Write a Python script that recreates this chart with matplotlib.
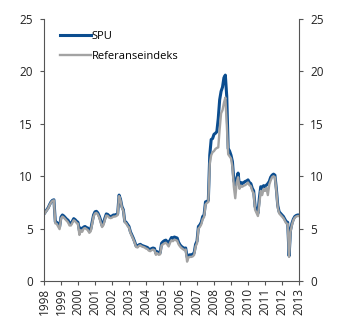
import numpy as np
import matplotlib
matplotlib.use("Agg")
import matplotlib.pyplot as plt

# monthly values, Jan 1998 .. Jan 2013
spu = [
    6.4, 6.6, 6.8, 7.0, 7.3, 7.55, 7.7, 7.75, 5.65, 5.6, 5.45, 5.15,      # 1998
    6.1, 6.3, 6.2, 6.05, 5.9, 5.8, 5.5, 5.45, 5.7, 5.95, 5.85, 5.7,       # 1999
    5.6, 4.8, 5.05, 4.95, 5.15, 5.2, 5.1, 5.05, 4.75, 4.95, 5.6, 6.3,     # 2000
    6.6, 6.65, 6.5, 6.2, 5.8, 5.3, 5.55, 6.0, 6.4, 6.35, 6.2, 6.15,       # 2001
    6.2, 6.3, 6.3, 6.35, 6.4, 8.2, 7.8, 7.1, 6.8, 5.7, 5.6, 5.4,          # 2002
    5.2, 4.7, 4.4, 4.1, 3.75, 3.35, 3.3, 3.45, 3.5, 3.4, 3.35, 3.3,       # 2003
    3.25, 3.2, 3.05, 3.0, 3.1, 3.15, 3.1, 2.65, 2.8, 2.65, 2.7, 3.6,      # 2004
    3.75, 3.85, 3.9, 3.75, 3.55, 3.9, 4.15, 4.05, 4.2, 4.15, 4.1, 3.7,    # 2005
    3.45, 3.3, 3.2, 3.1, 3.15, 2.3, 2.45, 2.5, 2.5, 2.55, 2.7, 3.5,       # 2006
    3.8, 5.2, 5.35, 5.6, 6.15, 6.3, 7.55, 7.6, 7.7, 12.0, 13.5, 13.6,     # 2007
    14.0, 14.1, 14.25, 15.5, 17.3, 18.1, 18.5, 19.4, 19.65, 17.6, 12.65, 12.4,  # 2008
    12.0, 11.4, 9.6, 9.15, 9.8, 10.3, 9.0, 9.4, 9.3, 9.4, 9.5, 9.55,     # 2009
    9.65, 9.4, 9.3, 8.85, 8.6, 7.1, 6.8, 6.45, 7.9, 9.0, 8.9, 9.1,        # 2010
    9.0, 9.15, 9.3, 9.5, 9.9, 10.1, 10.2, 10.1, 8.8, 7.2, 6.6, 6.45,      # 2011
    6.3, 6.15, 5.9, 5.65, 5.6, 2.4, 4.85, 5.5, 5.9, 6.15, 6.25, 6.3,      # 2012
    6.3,                                                                  # 2013
]

referanse = [
    6.35, 6.55, 6.75, 6.95, 7.25, 7.5, 7.65, 7.7, 5.5, 5.45, 5.2, 4.95,
    5.95, 6.15, 6.05, 5.9, 5.75, 5.6, 5.3, 5.3, 5.55, 5.8, 5.7, 5.55,
    5.45, 4.4, 4.85, 4.7, 5.0, 5.05, 4.95, 4.85, 4.6, 4.75, 5.45, 6.15,
    6.45, 6.5, 6.35, 6.05, 5.6, 5.15, 5.35, 5.85, 6.25, 6.2, 6.05, 6.0,
    6.05, 6.15, 6.15, 6.2, 6.3, 8.1, 7.7, 7.0, 6.7, 5.6, 5.5, 5.25,
    5.1, 4.6, 4.3, 4.0, 3.65, 3.25, 3.2, 3.35, 3.4, 3.3, 3.25, 3.2,
    3.1, 3.05, 2.9, 2.85, 2.95, 3.0, 2.95, 2.5, 2.65, 2.5, 2.55, 3.4,
    3.5, 3.6, 3.65, 3.5, 3.3, 3.65, 3.9, 3.8, 3.95, 3.9, 3.85, 3.5,
    3.3, 3.15, 3.05, 2.95, 3.0, 1.85, 2.25, 2.3, 2.3, 2.35, 2.5, 3.3,
    3.6, 5.0, 5.15, 5.4, 5.9, 6.1, 7.3, 7.45, 7.55, 11.2, 12.0, 12.3,
    12.4, 12.6, 12.7, 12.75, 14.5, 16.0, 16.3, 17.0, 17.5, 15.0, 12.1, 11.9,
    11.7, 10.9, 9.0, 7.9, 9.4, 9.9, 8.8, 9.1, 9.0, 9.1, 9.15, 9.25,
    9.4, 9.15, 9.05, 8.6, 8.35, 6.8, 6.5, 6.2, 7.4, 8.6, 8.2, 8.8,
    8.6, 8.9, 8.2, 9.2, 9.6, 9.9, 10.0, 9.9, 8.6, 7.0, 6.45, 6.3,
    6.15, 6.0, 5.75, 5.5, 5.45, 2.3, 4.7, 5.35, 5.8, 6.05, 6.15, 6.2,
    6.2,
]

year_labels = [str(y) for y in range(1998, 2014)]

t = 1998 + np.arange(len(spu)) / 12.0

plt.rcParams["font.family"] = ["Open Sans", "DejaVu Sans"]
fig = plt.figure(figsize=(3.45, 3.23), dpi=100)
ax = fig.add_axes([0.1275, 0.13, 0.7392, 0.811])

ax.plot(t, spu, color="#0b4d8f", lw=2.2, label="SPU", solid_joinstyle="round")
ax.plot(t, referanse, color="#a3a3a3", lw=1.7, label="Referanseindeks",
        solid_joinstyle="round")

ax.set_xlim(1998, 2013)
ax.set_ylim(0, 25)
ax.set_yticks(range(0, 26, 5))
ax.set_xticks(range(1998, 2014))
ax.set_xticklabels(year_labels, rotation=90)

ax.spines["top"].set_visible(False)
for side in ("left", "right", "bottom"):
    ax.spines[side].set_color("#555555")
    ax.spines[side].set_linewidth(0.8)

ax.tick_params(axis="both", labelsize=8.5, color="#555555", width=0.8,
               length=3, labelcolor="#222222")
ax.tick_params(axis="y", which="both", left=True, right=True,
               labelleft=True, labelright=True, pad=5)
ax.tick_params(axis="x", pad=2)

leg = ax.legend(loc="upper left", frameon=False, fontsize=8,
                handlelength=2.75, handletextpad=0.1, labelspacing=0.85,
                borderpad=0, borderaxespad=0,
                bbox_to_anchor=(0.063, 0.955))

fig.savefig("out.png", dpi=100)
